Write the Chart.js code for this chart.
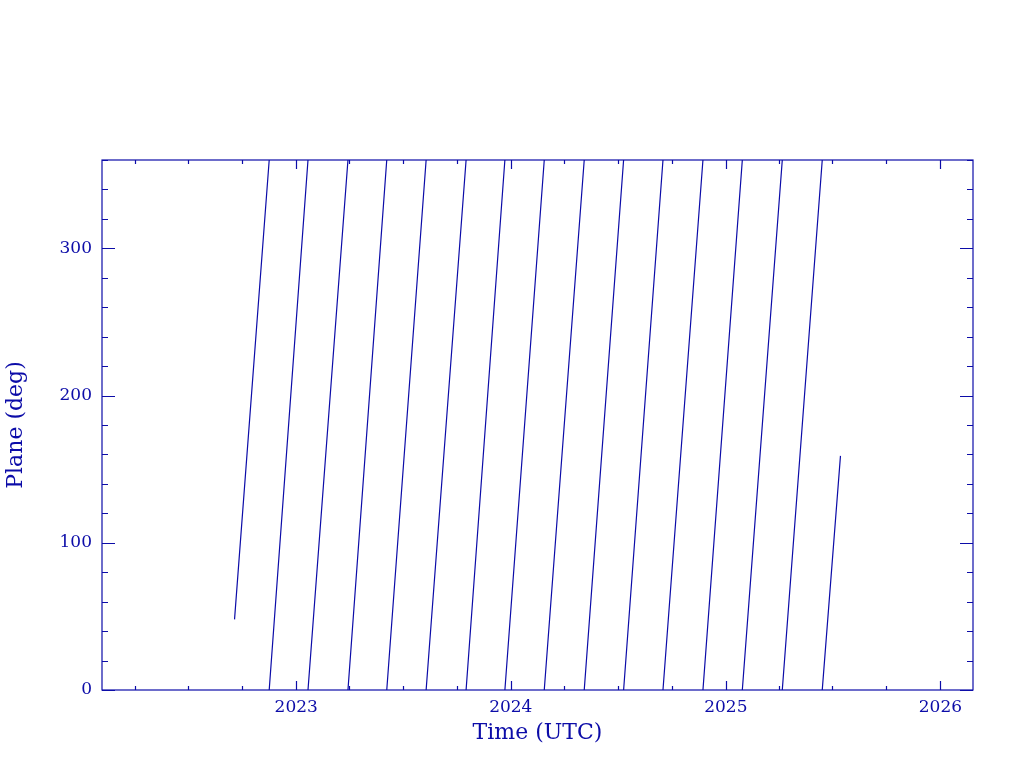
<!DOCTYPE html>
<html>
<head>
<meta charset="utf-8">
<script src="https://cdn.jsdelivr.net/npm/chart.js@4"></script>
<style>
  html, body { margin: 0; padding: 0; background: #fff; }
  #wrap { width: 1024px; height: 768px; }
</style>
</head>
<body>
<div id="wrap"><canvas id="myChart" width="1024" height="768"></canvas></div>
<script>
// sawtooth segments of the plane angle
var segStart = ['2022-09-18','2022-11-16','2023-01-21','2023-03-30','2023-06-04','2023-08-10','2023-10-17','2023-12-22',
                '2024-02-27','2024-05-05','2024-07-11','2024-09-16','2024-11-23','2025-01-29','2025-04-07','2025-06-14'];
var segEnd   = ['2022-11-16','2023-01-21','2023-03-30','2023-06-04','2023-08-10','2023-10-17','2023-12-22','2024-02-27',
                '2024-05-05','2024-07-11','2024-09-16','2024-11-23','2025-01-29','2025-04-07','2025-06-14','2025-07-15'];
var startDeg = [48, 0, 0, 0, 0, 0, 0, 0, 0, 0, 0, 0, 0, 0, 0, 0];
var endDeg   = [360, 360, 360, 360, 360, 360, 360, 360, 360, 360, 360, 360, 360, 360, 360, 159];

var years = [2023, 2024, 2025, 2026];
var quarterMonths = [0, 3, 6, 9];
var xMin = '2022-02-04T12:00:00Z';
var xMax = '2026-02-25T12:00:00Z';

var ink = '#0c0ca8';
var serif = 'DejaVu Serif';

// build line data, with a null point between segments to break the line
var points = [];
for (var i = 0; i < segStart.length; i++) {
    points.push({x: Date.parse(segStart[i]), y: startDeg[i]});
    points.push({x: Date.parse(segEnd[i]), y: endDeg[i]});
    points.push({x: Date.parse(segEnd[i]), y: null});
}

// quarter-year tick positions (years are major)
var xTicks = [];
for (var y = years[0] - 1; y <= years[years.length - 1]; y++) {
    quarterMonths.forEach(function (m) {
        var v = Date.UTC(y, m, 1);
        if (v >= Date.parse(xMin) && v <= Date.parse(xMax)) xTicks.push(v);
    });
}

function isYearStart(v) {
    var d = new Date(v);
    return d.getUTCMonth() === 0 && d.getUTCDate() === 1;
}

// frame with inward ticks on all four sides
var framePlugin = {
    id: 'frame',
    afterDraw: function (chart) {
        var ctx = chart.ctx, a = chart.chartArea;
        var xs = chart.scales.x, ys = chart.scales.y;
        ctx.save();
        ctx.strokeStyle = ink;
        ctx.lineWidth = 1.2;
        ctx.strokeRect(a.left, a.top, a.right - a.left, a.bottom - a.top);
        ctx.beginPath();
        xs.ticks.forEach(function (t) {
            var px = Math.round(xs.getPixelForValue(t.value)) + 0.5;
            var len = isYearStart(t.value) ? 9 : 4;
            ctx.moveTo(px, a.bottom); ctx.lineTo(px, a.bottom - len);
            ctx.moveTo(px, a.top); ctx.lineTo(px, a.top + len);
        });
        ys.ticks.forEach(function (t) {
            var py = Math.round(ys.getPixelForValue(t.value)) + 0.5;
            var len = t.value % 100 === 0 ? 13 : 6;
            ctx.moveTo(a.left, py); ctx.lineTo(a.left + len, py);
            ctx.moveTo(a.right, py); ctx.lineTo(a.right - len, py);
        });
        ctx.stroke();
        ctx.restore();
    }
};

var ctx = document.getElementById('myChart').getContext('2d');
var chart = new Chart(ctx, {
    type: 'line',
    data: {
        datasets: [{
            data: points,
            borderColor: ink,
            borderWidth: 1.2,
            pointRadius: 0,
            tension: 0,
            spanGaps: false
        }]
    },
    options: {
        responsive: false,
        animation: false,
        layout: { padding: { left: 0, right: 51, top: 160, bottom: 0 } },
        plugins: { legend: { display: false }, tooltip: { enabled: false } },
        scales: {
            x: {
                type: 'linear',
                min: Date.parse(xMin),
                max: Date.parse(xMax),
                afterBuildTicks: function (scale) {
                    scale.ticks = xTicks.map(function (v) { return {value: v}; });
                },
                afterFit: function (scale) { scale.height = 78; },
                grid: { display: false, drawTicks: false },
                border: { display: false },
                ticks: {
                    autoSkip: false,
                    maxRotation: 0,
                    padding: 7,
                    color: ink,
                    font: { family: serif, size: 17 },
                    callback: function (v) {
                        return isYearStart(v) ? String(new Date(v).getUTCFullYear()) : '';
                    }
                },
                title: {
                    display: true,
                    text: 'Time (UTC)',
                    color: ink,
                    font: { family: serif, size: 22 },
                    padding: { top: 0, bottom: 22 }
                }
            },
            y: {
                min: 0,
                max: 360,
                afterFit: function (scale) { scale.width = 102; },
                grid: { display: false, drawTicks: false },
                border: { display: false },
                ticks: {
                    stepSize: 20,
                    autoSkip: false,
                    padding: 10,
                    color: ink,
                    font: { family: serif, size: 17 },
                    callback: function (v) { return v % 100 === 0 ? v : ''; }
                },
                title: {
                    display: true,
                    text: 'Plane (deg)',
                    color: ink,
                    font: { family: serif, size: 22 },
                    padding: { top: 3, bottom: 0 }
                }
            }
        }
    },
    plugins: [framePlugin]
});
</script>
</body>
</html>
